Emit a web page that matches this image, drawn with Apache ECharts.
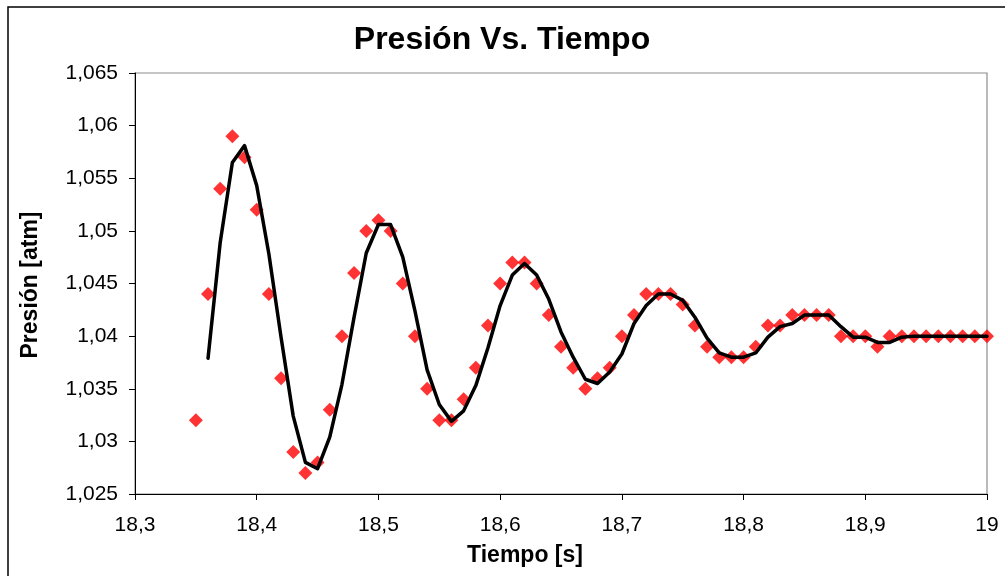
<!DOCTYPE html>
<html>
<head>
<meta charset="utf-8">
<script src="https://cdn.jsdelivr.net/npm/echarts@6/dist/echarts.min.js"></script>
<style>
  html, body { margin: 0; padding: 0; background: #fff; }
  #chart { width: 1005px; height: 576px; }
</style>
</head>
<body>
<div id="chart"></div>
<script>
// ---- Data ----
const chartTitle = 'Presión Vs. Tiempo';
const xAxisTitle = 'Tiempo [s]';
const yAxisTitle = 'Presión [atm]';

const xTicks = [18.3, 18.4, 18.5, 18.6, 18.7, 18.8, 18.9, 19.0];
const yTicks = [1.025, 1.03, 1.035, 1.04, 1.045, 1.05, 1.055, 1.06, 1.065];

// Measured points (red diamonds)
const measuredTimes = [
  18.35, 18.36, 18.37, 18.38, 18.39, 18.40, 18.41, 18.42, 18.43, 18.44,
  18.45, 18.46, 18.47, 18.48, 18.49, 18.50, 18.51, 18.52, 18.53, 18.54,
  18.55, 18.56, 18.57, 18.58, 18.59, 18.60, 18.61, 18.62, 18.63, 18.64,
  18.65, 18.66, 18.67, 18.68, 18.69, 18.70, 18.71, 18.72, 18.73, 18.74,
  18.75, 18.76, 18.77, 18.78, 18.79, 18.80, 18.81, 18.82, 18.83, 18.84,
  18.85, 18.86, 18.87, 18.88, 18.89, 18.90, 18.91, 18.92, 18.93, 18.94,
  18.95, 18.96, 18.97, 18.98, 18.99, 19.00
];
const measuredPressure = [
  1.032, 1.044, 1.054, 1.059, 1.057, 1.052, 1.044, 1.036, 1.029, 1.027,
  1.028, 1.033, 1.040, 1.046, 1.050, 1.051, 1.050, 1.045, 1.040, 1.035,
  1.032, 1.032, 1.034, 1.037, 1.041, 1.045, 1.047, 1.047, 1.045, 1.042,
  1.039, 1.037, 1.035, 1.036, 1.037, 1.040, 1.042, 1.044, 1.044, 1.044,
  1.043, 1.041, 1.039, 1.038, 1.038, 1.038, 1.039, 1.041, 1.041, 1.042,
  1.042, 1.042, 1.042, 1.040, 1.040, 1.040, 1.039, 1.040, 1.040, 1.040,
  1.040, 1.040, 1.040, 1.040, 1.040, 1.040
];

// Model curve (black line)
const modelTimes = [
  18.36, 18.37, 18.38, 18.39, 18.40, 18.41, 18.42, 18.43, 18.44,
  18.45, 18.46, 18.47, 18.48, 18.49, 18.50, 18.51, 18.52, 18.53, 18.54,
  18.55, 18.56, 18.57, 18.58, 18.59, 18.60, 18.61, 18.62, 18.63, 18.64,
  18.65, 18.66, 18.67, 18.68, 18.69, 18.70, 18.71, 18.72, 18.73, 18.74,
  18.75, 18.76, 18.77, 18.78, 18.79, 18.80, 18.81, 18.82, 18.83, 18.84,
  18.85, 18.86, 18.87, 18.88, 18.89, 18.90, 18.91, 18.92, 18.93, 18.94,
  18.95, 18.96, 18.97, 18.98, 18.99, 19.00
];
const modelPressure = [
  1.0379, 1.0489, 1.0565, 1.0581, 1.0543, 1.0478, 1.0399, 1.0324, 1.0280,
  1.0274, 1.0304, 1.0354, 1.0418, 1.0479, 1.0506, 1.0506, 1.0475, 1.0424, 1.0368,
  1.0335, 1.0319, 1.0329, 1.0353, 1.0389, 1.0429, 1.0458, 1.0469, 1.0458, 1.0435,
  1.0404, 1.0380, 1.0359, 1.0355, 1.0366, 1.0383, 1.0412, 1.0429, 1.0440, 1.0440,
  1.0434, 1.0418, 1.0398, 1.0384, 1.0380, 1.0380, 1.0384, 1.0399, 1.0409, 1.0412,
  1.0420, 1.0420, 1.0420, 1.0409, 1.0399, 1.0399, 1.0394, 1.0394, 1.0399, 1.0400,
  1.0400, 1.0400, 1.0400, 1.0400, 1.0400, 1.0400
];

// ---- Chart ----
const FONT = '"Liberation Sans", Arial, sans-serif';
const fmt = v => String(+Number(v).toFixed(3)).replace('.', ',');

const chart = echarts.init(document.getElementById('chart'), null, { renderer: 'canvas' });

const xStep = +(xTicks[1] - xTicks[0]).toFixed(3);
const yStep = +(yTicks[1] - yTicks[0]).toFixed(3);

const option = {
  backgroundColor: '#ffffff',
  animation: false,
  grid: {
    left: 135, top: 73, right: 18, bottom: 82,
    show: true, borderColor: '#8c8c8c', borderWidth: 1.2,
    containLabel: false
  },
  xAxis: {
    type: 'value',
    min: xTicks[0], max: xTicks[xTicks.length - 1], interval: xStep,
    axisLine: { show: true, onZero: false, lineStyle: { color: '#000', width: 1 } },
    axisTick: { show: true, inside: false, length: 6, lineStyle: { color: '#000', width: 1 } },
    splitLine: { show: false },
    axisLabel: { margin: 21, color: '#000', fontSize: 21, fontFamily: FONT, formatter: fmt }
  },
  yAxis: {
    type: 'value',
    min: yTicks[0], max: yTicks[yTicks.length - 1], interval: yStep,
    axisLine: { show: true, onZero: false, lineStyle: { color: '#000', width: 1 } },
    axisTick: { show: true, inside: false, length: 6, lineStyle: { color: '#000', width: 1 } },
    splitLine: { show: false },
    axisLabel: { margin: 17, color: '#000', fontSize: 21, fontFamily: FONT, formatter: fmt }
  },
  series: [
    {
      name: 'Medido',
      type: 'scatter',
      symbol: 'diamond',
      symbolSize: 14,
      itemStyle: { color: '#ff0000' },
      data: measuredTimes.map((t, i) => [t, measuredPressure[i]]),
      z: 2
    },
    {
      name: 'Modelo',
      type: 'line',
      showSymbol: false,
      symbol: 'none',
      smooth: false,
      lineStyle: { color: '#000', width: 3.5, join: 'round', cap: 'round' },
      data: modelTimes.map((t, i) => [t, modelPressure[i]]),
      z: 3
    }
  ],
  graphic: [
    {
      type: 'rect',
      shape: { x: 8, y: 7, width: 1020, height: 620 },
      style: { fill: 'none', stroke: '#000', lineWidth: 1.5 },
      silent: true, z: -10
    },
    {
      type: 'text',
      x: 502, y: 40,
      style: {
        text: chartTitle, fill: '#000', font: 'bold 32px ' + FONT,
        textAlign: 'center', textVerticalAlign: 'middle'
      }
    },
    {
      type: 'text',
      x: 525, y: 556,
      style: {
        text: xAxisTitle, fill: '#000', font: 'bold 23px ' + FONT,
        textAlign: 'center', textVerticalAlign: 'middle'
      }
    },
    {
      type: 'text',
      x: 31, y: 285,
      rotation: Math.PI / 2,
      style: {
        text: yAxisTitle, fill: '#000', font: 'bold 23px ' + FONT,
        textAlign: 'center', textVerticalAlign: 'middle'
      }
    }
  ]
};

chart.setOption(option);
</script>
</body>
</html>
